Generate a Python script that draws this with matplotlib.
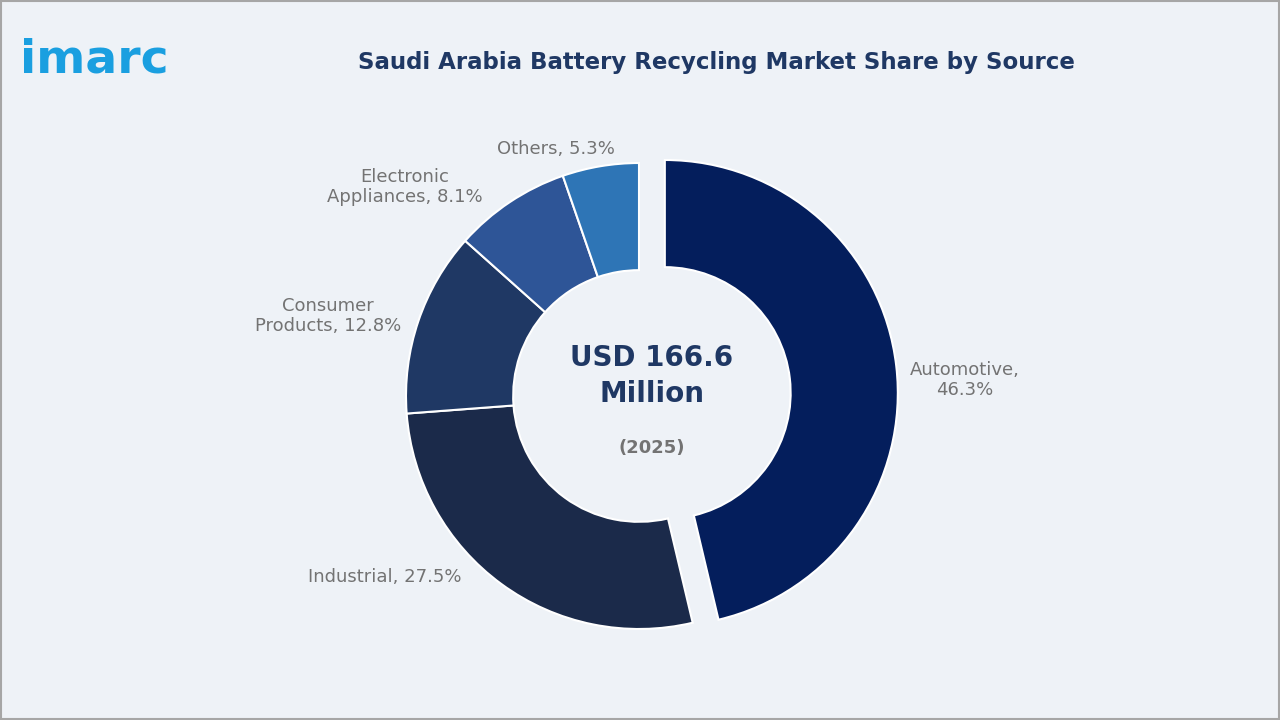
import matplotlib.pyplot as plt

# Data
sources = ["Automotive", "Industrial", "Consumer\nProducts", "Electronic\nAppliances", "Others"]
shares = [46.3, 27.5, 12.8, 8.1, 5.3]
colors = ["#041E5C", "#1B2A4A", "#1F3864", "#2E5597", "#2E75B6"]
explode = [26, 0, 0, 0, 0]  # offset in pixels (data units)

fig = plt.figure(figsize=(12.8, 7.2), dpi=100, facecolor="#EEF2F7")
ax = fig.add_axes([0, 0, 1, 1])
ax.set_aspect("equal")
ax.add_patch(plt.Rectangle((1, 1), 1278, 718, fill=False, edgecolor="#A6A6A6", lw=1.5))

ax.pie(shares, colors=colors, explode=explode, startangle=90, counterclock=False,
       center=(639, 396 - 72), radius=233, frame=True,
       wedgeprops=dict(width=233 * 0.46, edgecolor="white", linewidth=1.5))
ax.set_xlim(0, 1280)
ax.set_ylim(0, 720)
ax.set_axis_off()

gray = "#737373"
lab = dict(color=gray, fontsize=13, ha="center", va="center")
ax.text(965, 340, "Automotive,\n46.3%", **lab)
ax.text(385, 143, "Industrial, 27.5%", **lab)
ax.text(328, 404, "Consumer\nProducts, 12.8%", **lab)
ax.text(405, 533, "Electronic\nAppliances, 8.1%", **lab)
ax.text(556, 571, "Others, 5.3%", **lab)

ax.text(652, 344, "USD 166.6\nMillion", color="#1F3864", fontsize=20, fontweight="bold",
        ha="center", va="center", linespacing=1.35)
ax.text(652, 272, "(2025)", color=gray, fontsize=13, fontweight="bold", ha="center", va="center")

ax.text(716, 658, "Saudi Arabia Battery Recycling Market Share by Source", color="#1F3864",
        fontsize=16.5, fontweight="bold", ha="center", va="center")
ax.text(20, 660, "imarc", color="#1A9FE0", fontsize=34, fontweight="bold", ha="left", va="center")

fig.savefig("out.png", dpi=100, facecolor=fig.get_facecolor())
